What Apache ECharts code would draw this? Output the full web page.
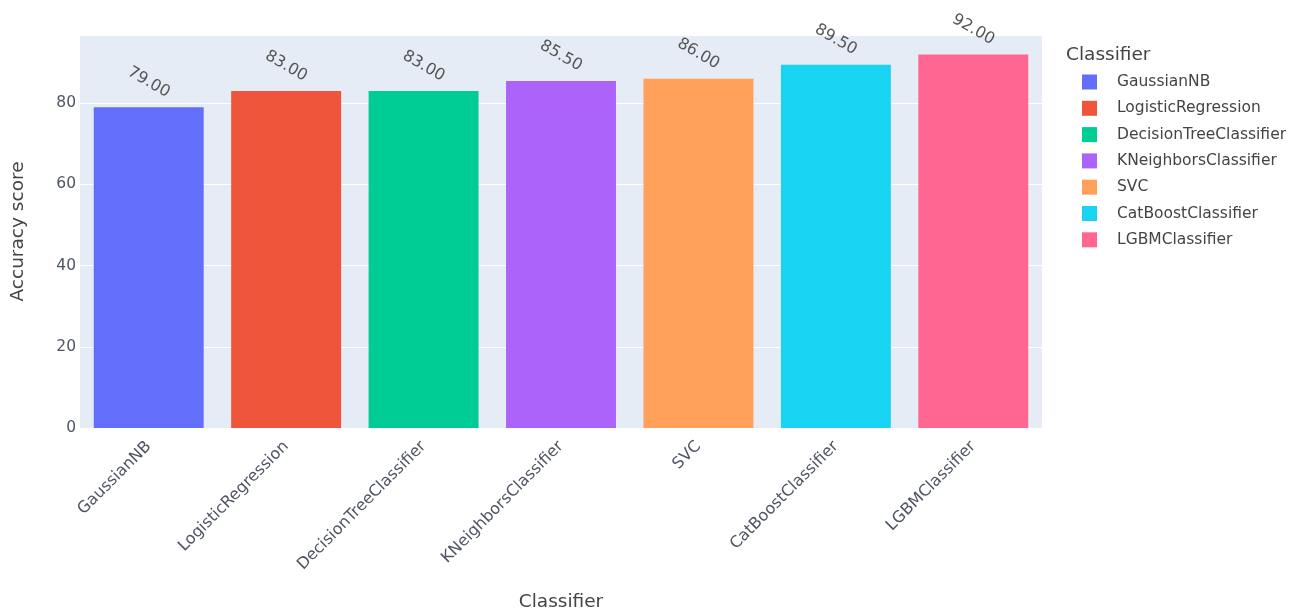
<!DOCTYPE html>
<html>
<head>
<meta charset="utf-8">
<script src="https://cdn.jsdelivr.net/npm/echarts@6/dist/echarts.min.js"></script>
<style>html,body{margin:0;padding:0;background:#fff}#c{width:1309px;height:615px}</style>
</head>
<body>
<div id="c"></div>
<script>
const categories = ["GaussianNB","LogisticRegression","DecisionTreeClassifier","KNeighborsClassifier","SVC","CatBoostClassifier","LGBMClassifier"];
const scores = [79.0, 83.0, 83.0, 85.5, 86.0, 89.5, 92.0];
const colors = ["#636efa","#EF553B","#00cc96","#ab63fa","#FFA15A","#19d3f3","#FF6692"];
const yTicks = [0, 20, 40, 60, 80];

const font = "'DejaVu Sans', Verdana, sans-serif";
const tickColor = '#4f5563';
const series = categories.map((name, i) => ({
  name: name,
  type: 'bar',
  stack: 'all',
  barCategoryGap: '20%',
  itemStyle: { color: colors[i] },
  data: categories.map((c, j) => j === i ? scores[i] : null),
  label: {
    show: true,
    position: 'top',
    distance: 25,
    rotate: -30,
    align: 'center',
    verticalAlign: 'middle',
    formatter: p => p.value.toFixed(2),
    fontFamily: font,
    fontSize: 16,
    color: '#555'
  }
}));

const chart = echarts.init(document.getElementById('c'));
chart.setOption({
  backgroundColor: '#fff',
  animation: false,
  title: {
    text: 'Classifier',
    left: 1061, top: 41,
    textStyle: { fontFamily: font, fontSize: 18.5, fontWeight: 'normal', color: '#444' }
  },
  legend: {
    orient: 'vertical',
    left: 1077, top: 69,
    itemWidth: 15, itemHeight: 15, itemGap: 10.3,
    icon: 'rect',
    textStyle: { fontFamily: font, fontSize: 15.5, lineHeight: 15, color: '#444', padding: [0, 0, 0, 15] },
    data: categories
  },
  grid: {
    left: 80, right: 267, top: 35, bottom: 187,
    outerBoundsMode: 'none', containLabel: false,
    show: true, backgroundColor: '#E5ECF6', borderWidth: 0
  },
  xAxis: {
    type: 'category',
    data: categories,
    name: 'Classifier',
    nameLocation: 'middle',
    nameGap: 165,
    nameTextStyle: { fontFamily: font, fontSize: 18.5, color: '#444' },
    axisLine: { show: false },
    axisTick: { show: false },
    axisLabel: { rotate: 45, margin: 16, interval: 0, fontFamily: font, fontSize: 16, color: tickColor }
  },
  yAxis: {
    type: 'value',
    min: 0, max: 96.8, interval: 20,
    name: 'Accuracy score',
    nameLocation: 'middle',
    nameGap: 52,
    nameRotate: 90,
    nameTextStyle: { fontFamily: font, fontSize: 18.5, color: '#444' },
    axisLine: { show: false },
    axisTick: { show: false },
    splitLine: { lineStyle: { color: '#ffffff', width: 1 } },
    axisLabel: {
      margin: 4, fontFamily: font, fontSize: 15.5, color: tickColor,
      formatter: v => yTicks.includes(v) ? String(v) : ''
    }
  },
  series: series
});
</script>
</body>
</html>
